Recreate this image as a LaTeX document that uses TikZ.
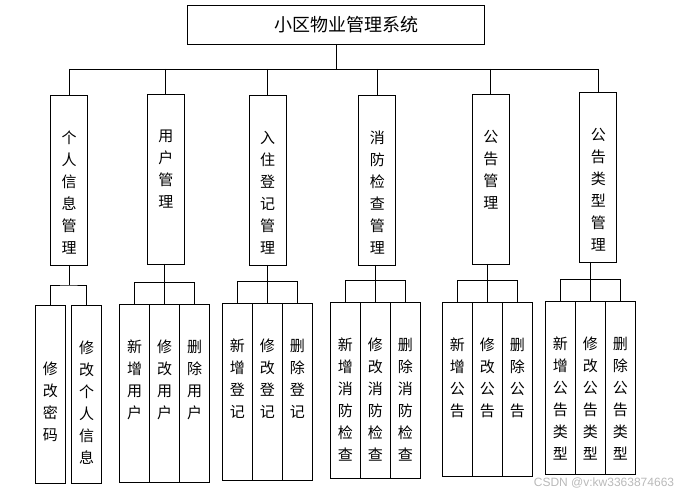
\documentclass[tikz,border=0pt]{standalone}
\usepackage{fontspec}
\newfontfamily\cjk{Noto Sans CJK SC}
\newfontfamily\wmfont{Liberation Sans}
\usetikzlibrary{positioning}

\tikzset{
  box/.style={draw, line width=0.8pt, inner sep=0pt, outer sep=0pt},
  vtext/.style={font=\cjk\fontsize{15}{22}\selectfont, align=center,
                inner sep=0pt},
  midbox/.style={box, anchor=north, minimum width=37pt, minimum height=170pt,
                 label={[vtext, anchor=north, yshift=-36pt]north:{#1}}},
  leafbox/.style={box, minimum width=30pt, minimum height=177pt,
                  label={[vtext, anchor=north, yshift=-36pt]north:{#1}}},
  lowleafbox/.style={box, minimum width=30pt, minimum height=177pt,
                     label={[vtext, anchor=north, yshift=-57pt]north:{#1}}},
  link/.style={line width=0.8pt}
}

\begin{document}
\begin{tikzpicture}[x=1pt, y=-1pt]
  \useasboundingbox (0,0) rectangle (691,497);

  % top
  \node[box, minimum width=297pt, minimum height=39pt,
        font=\cjk\fontsize{18}{22}\selectfont] (sys) at (336,24.5)
    {\hspace{20pt}小区物业管理系统};

  % second level
  \node[midbox={个\\人\\信\\息\\管\\理}]   (m1) at (69,95) {};
  \node[midbox={用\\户\\管\\理}]           (m2) at (165.8,94) {};
  \node[midbox={入\\住\\登\\记\\管\\理}]   (m3) at (267.5,95) {};
  \node[midbox={消\\防\\检\\查\\管\\理}]   (m4) at (377.3,95) {};
  \node[midbox={公\\告\\管\\理}]           (m5) at (490.8,94) {};
  \node[midbox={公\\告\\类\\型\\管\\理}]   (m6) at (598.3,92) {};

  % leaves
  \node[lowleafbox={修\\改\\密\\码}, anchor=north, minimum height=178pt]
    (l11) at (50.3,305) {};
  \node[leafbox={修\\改\\个\\人\\信\\息}, anchor=north, minimum height=178pt]
    (l12) at (86.5,305) {};

  \node[leafbox={新\\增\\用\\户}, anchor=north, minimum height=178pt]
    (l21) at (134.5,304) {};
  \node[leafbox={修\\改\\用\\户}, minimum height=178pt, right=0pt of l21] (l22) {};
  \node[leafbox={删\\除\\用\\户}, minimum height=178pt, right=0pt of l22] (l23) {};

  \node[leafbox={新\\增\\登\\记}, anchor=north] (l31) at (237.3,303) {};
  \node[leafbox={修\\改\\登\\记}, right=0pt of l31] (l32) {};
  \node[leafbox={删\\除\\登\\记}, right=0pt of l32] (l33) {};

  \node[leafbox={新\\增\\消\\防\\检\\查}, anchor=north, minimum height=176pt]
    (l41) at (345.3,302) {};
  \node[leafbox={修\\改\\消\\防\\检\\查}, minimum height=176pt, right=0pt of l41] (l42) {};
  \node[leafbox={删\\除\\消\\防\\检\\查}, minimum height=176pt, right=0pt of l42] (l43) {};

  \node[leafbox={新\\增\\公\\告}, anchor=north, minimum height=174pt]
    (l51) at (457.3,302) {};
  \node[leafbox={修\\改\\公\\告}, minimum height=174pt, right=0pt of l51] (l52) {};
  \node[leafbox={删\\除\\公\\告}, minimum height=174pt, right=0pt of l52] (l53) {};

  \node[leafbox={新\\增\\公\\告\\类\\型}, anchor=north, minimum height=173pt]
    (l61) at (560.3,301) {};
  \node[leafbox={修\\改\\公\\告\\类\\型}, minimum height=173pt, right=0pt of l61] (l62) {};
  \node[leafbox={删\\除\\公\\告\\类\\型}, minimum height=173pt, right=0pt of l62] (l63) {};

  % connectors, top
  \draw[link] (sys.south) -- ++(0,25) coordinate (bus);
  \draw[link] (m1.north |- bus) -- (m6.north |- bus);
  \foreach \i in {1,...,6}
    \draw[link] (m\i.north |- bus) -- (m\i.north);

  % connectors, bottom
  \draw[link] (m1.south) -- ++(0,20) coordinate (j1);
  \draw[link] (l11.north) |- (j1) -| (l12.north);
  \foreach \i in {2,...,6} {
    \draw[link] (l\i2.north |- m\i.south) -- (l\i2.north);
    \draw[link] (l\i1.north) -- ++(0,-22) -| (l\i3.north);
  }

  \node[font=\wmfont\fontsize{12}{14}\selectfont, text=gray!55,
        inner sep=0pt] (wm) at (604,483) {CSDN @v:kw3363874663};
\end{tikzpicture}
\end{document}
